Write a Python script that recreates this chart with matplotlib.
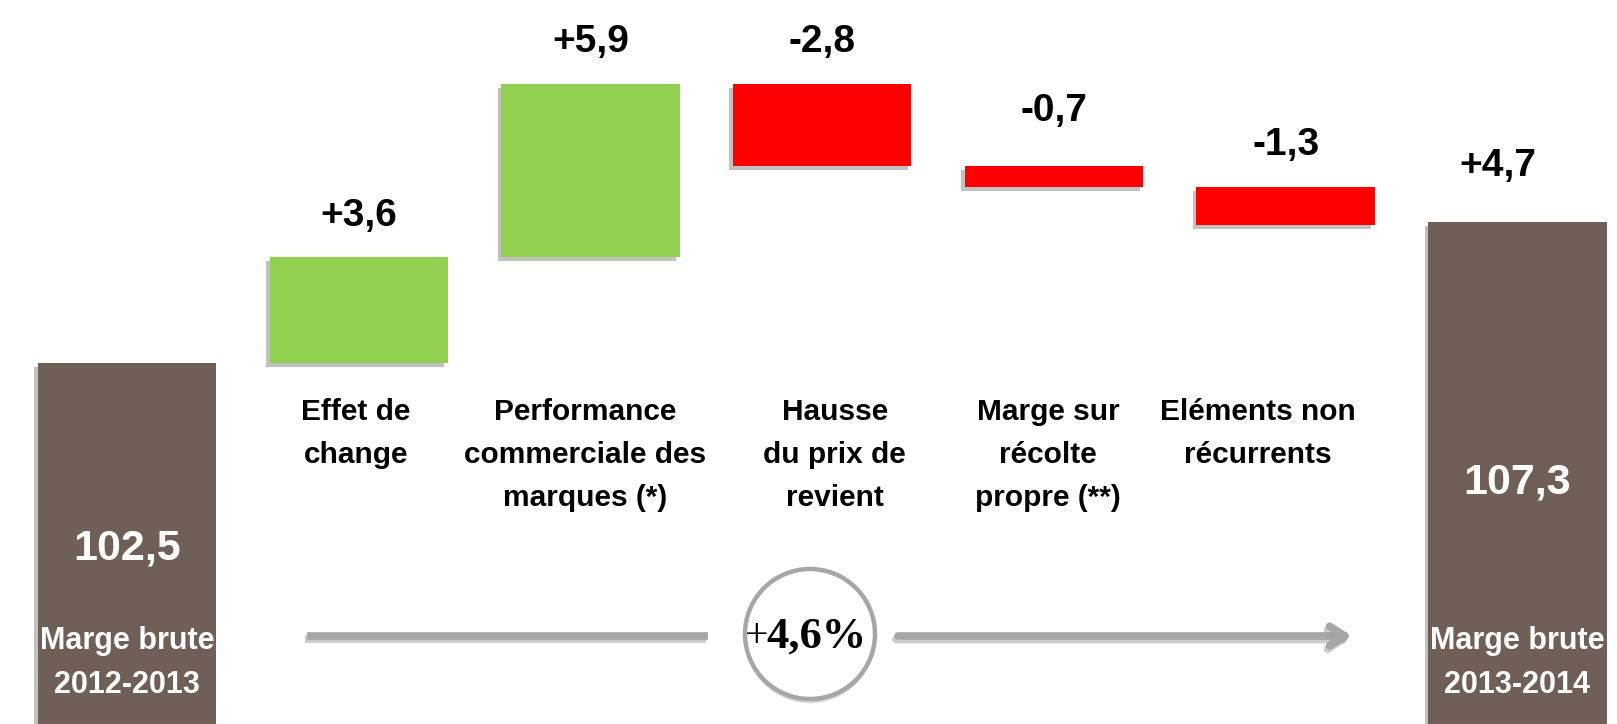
import matplotlib
matplotlib.use("Agg")
import matplotlib.pyplot as plt
import matplotlib.patheffects as pe
from matplotlib.patches import Ellipse
import numpy as np

# donnees
debut = 102.5
fin = 107.3
variations = [3.6, 5.9, -2.8, -0.7, -1.3]
etiquettes_var = ["+3,6", "+5,9", "-2,8", "-0,7", "-1,3"]
etiquette_fin = "+4,7"
categories = ["Effet de\nchange",
              "Performance\ncommerciale des\nmarques (*)",
              "Hausse\ndu prix de\nrevient",
              "Marge sur\nrécolte\npropre (**)",
              "Eléments non\nrécurrents"]
libelle_debut = "Marge brute\n2012-2013"
libelle_fin = "Marge brute\n2013-2014"
evolution = "4,6%"

BRUN = "#6f5f57"
VERT = "#92d050"
ROUGE = "#ff0000"
GRIS = "#a6a6a6"
POLICE = ["Liberation Sans", "DejaVu Sans"]

# petits decalages des textes (en points)
dy_valeurs = [30, 30, 30, 40, 30]
dx_categories = [-2, -4, 9, -4, -20]

fig = plt.figure(figsize=(16.17, 7.24), dpi=100)
ax = fig.add_axes([0, 0, 1, 1])
ax.set_xlim(-0.548, 6.43)
ax.set_ylim(90.22, 114.85)
ax.axis("off")

ombre = [pe.SimplePatchShadow(offset=(-2.5, -3), shadow_rgbFace="#777777", alpha=0.45), pe.Normal()]
largeur = 0.77
bas_axe = ax.get_ylim()[0]

# barre de depart
b = ax.bar(0, debut - bas_axe, bottom=bas_axe, width=largeur, color=BRUN)
b[0].set_path_effects(ombre)

# variations
cumul = debut
for i, v in enumerate(variations):
    x = i + 1
    bas = cumul if v > 0 else cumul + v
    couleur = VERT if v > 0 else ROUGE
    r = ax.bar(x, abs(v), bottom=bas, width=largeur, color=couleur)
    r[0].set_path_effects(ombre)
    haut = bas + abs(v)
    ax.annotate(etiquettes_var[i], (x, haut), xytext=(0, dy_valeurs[i]), textcoords="offset points",
                ha="center", va="center", fontsize=28, fontweight="bold", family=POLICE)
    ax.annotate(categories[i], (x, 101.32), xytext=(dx_categories[i], 0), textcoords="offset points",
                ha="center", va="top", fontsize=21.5, fontweight="bold", family=POLICE,
                linespacing=1.68)
    cumul += v

# barre finale
f = ax.bar(6, fin - bas_axe, bottom=bas_axe, width=largeur, color=BRUN)
f[0].set_path_effects(ombre)
ax.annotate(etiquette_fin, (6, fin), xytext=(-14, 40), textcoords="offset points",
            ha="center", va="center", fontsize=28, fontweight="bold", family=POLICE)

# textes dans les barres
ax.text(0, 96.2, f"{debut:.1f}".replace(".", ","), ha="center", va="center",
        color="white", fontsize=31, fontweight="bold", family=POLICE)
ax.text(0, 92.3, libelle_debut, ha="center", va="center", color="white",
        fontsize=22, fontweight="bold", family=POLICE, linespacing=1.6)
ax.text(6, 98.45, f"{fin:.1f}".replace(".", ","), ha="center", va="center",
        color="white", fontsize=31, fontweight="bold", family=POLICE)
ax.text(6, 92.3, libelle_fin, ha="center", va="center", color="white",
        fontsize=22, fontweight="bold", family=POLICE, linespacing=1.6)

# fleche d'evolution
y_f = 1 - 636 / 724
ombre_ligne = [pe.SimpleLineShadow(offset=(-1.5, -2.5), shadow_color="#999999", alpha=0.5), pe.Normal()]
l, = ax.plot([307 / 1617, 708 / 1617], [y_f, y_f], transform=ax.transAxes,
             color=GRIS, lw=5.5, solid_capstyle="butt")
l.set_path_effects(ombre_ligne)
fl = ax.annotate("", xy=(1352 / 1617, y_f), xytext=(898 / 1617, y_f),
                 xycoords="axes fraction", textcoords="axes fraction",
                 arrowprops=dict(arrowstyle="->,head_length=1.1,head_width=0.7",
                                 color=GRIS, lw=5.5, shrinkA=0, shrinkB=0))
fl.arrow_patch.set_path_effects(ombre_ligne)

cercle = Ellipse((810 / 1617, 1 - 634 / 724), 130 / 1617, 130 / 724, transform=ax.transAxes,
                 facecolor="white", edgecolor=GRIS, lw=3.2)
cercle.set_path_effects([pe.SimplePatchShadow(offset=(0, -3), shadow_rgbFace="#999999", alpha=0.4), pe.Normal()])
ax.add_patch(cercle)
ax.text(757 / 1617, 1 - 637 / 724, "+", transform=ax.transAxes, ha="center", va="center",
        fontsize=30, family=["Liberation Serif", "DejaVu Serif"])
ax.text(816 / 1617, 1 - 637 / 724, evolution, transform=ax.transAxes, ha="center", va="center",
        fontsize=32, fontweight="bold", family=["Liberation Serif", "DejaVu Serif"])

fig.savefig("out.png", dpi=100)
